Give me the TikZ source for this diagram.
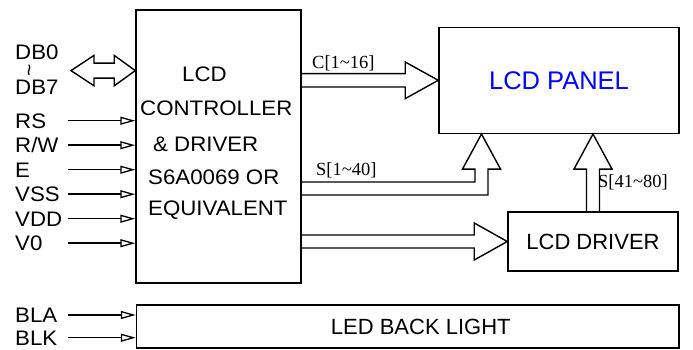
\documentclass[tikz,border=0pt]{standalone}
\usepackage{fontspec}
\setmainfont{Liberation Sans}
\newfontfamily\widefont[FakeStretch=1.06]{Liberation Sans}
\newfontfamily\busfont{Liberation Serif}
\usetikzlibrary{calc, arrows.meta}

\begin{document}
\begin{tikzpicture}[x=1pt, y=-1pt,
		box/.style={draw, line width=1.5pt, inner sep=0pt},
		bus/.style={draw, line width=1.4pt, line join=miter},
		pinarrow/.style={line width=1.5pt, -{Triangle[open, length=15pt, width=8pt, line width=1.3pt]}},
		pinlabel/.style={anchor=west, inner sep=0pt, text width=53pt, text height=15pt, text depth=0pt, font=\widefont\fontsize{21pt}{24pt}\selectfont},
		ctrltext/.style={anchor=west, inner sep=0pt, text height=15pt, text depth=0pt, font=\widefont\fontsize{21pt}{24pt}\selectfont},
		buslabel/.style={anchor=west, inner sep=0pt, font=\busfont\fontsize{18.5pt}{22pt}\selectfont}]
		\useasboundingbox (0,0) rectangle (693,349);

		% blocks
		\node[box, minimum width=165pt, minimum height=273pt] (ctrl) at (218.5,146.5) {};
		\node[box, minimum width=240pt, minimum height=106pt, text=blue, font=\fontsize{25.5pt}{30pt}\selectfont] (panel) at (559,80.3) {LCD PANEL};
		\node[box, minimum width=170pt, minimum height=59pt, font=\fontsize{22pt}{26pt}\selectfont] (drv) at (593,241.5) {LCD DRIVER};
		\node[box, minimum width=542.5pt, minimum height=43pt, font=\fontsize{22pt}{26pt}\selectfont] (led) at (407.75,326.5) {\hspace*{26pt}LED BACK LIGHT};

		\foreach \x/\y/\txt [count=\i] in {182/74.2/LCD, 140/108.3/CONTROLLER, 153/144.2/{\& DRIVER}, 148/176.7/{S6A0069 OR}, 148/207.5/EQUIVALENT}
			\node[ctrltext] (cline\i) at (\x,\y) {\txt};

		% data bus
		\node[pinlabel] (db0) at (15,51.5) {DB0};
		\node[inner sep=0pt, font=\fontsize{21pt}{24pt}\selectfont] (dbto) at (32,70) {\rotatebox{90}{\textasciitilde}};
		\node[pinlabel] (db7) at (15,87) {DB7};
		\coordinate (dbl) at (71,70.6);
		\coordinate (dbr) at (dbl -| ctrl.west);
		\draw[bus] (dbl) -- ++(23,-15.2) -- ++(0,7.7) -- ($(dbr)+(-21,-7.5)$) -- ++(0,-7.7) -- (dbr)
			-- ++(-21,15.2) -- ++(0,-7.7) -- ($(dbl)+(23,7.5)$) -- ++(0,7.7) -- cycle;

		% control pins
		\foreach \name/\txt [count=\i] in {rs/RS, rw/{R/W}, e/E, vss/VSS, vdd/VDD, vo/V0} {
			\node[pinlabel] (\name) at (15,{120.7+24.5*(\i-1)}) {\txt};
			\draw[pinarrow] (\name.east) -- (\name.east -| ctrl.west);
		}
		\foreach \name/\txt/\y in {bla/BLA/315, blk/BLK/337.7} {
			\node[pinlabel] (\name) at (15,\y) {\txt};
			\draw[pinarrow] (\name.east) -- (\name.east -| led.west);
		}

		% common bus
		\coordinate (cbus) at (ctrl.east |- panel.west);
		\draw[bus] ($(cbus)+(0,-6.7)$) -- ($(panel.west)+(-33,-6.7)$) -- ++(0,-11.6) -- (panel.west)
			-- ++(-33,18.3) -- ++(0,-11.6) -- ($(cbus)+(0,6.7)$);
		\node[buslabel] (clab) at (312,63) {C[1\textasciitilde16]};

		% segment bus
		\coordinate (sbus) at (ctrl.east |- 0,188.5);
		\coordinate (stip) at (panel.south -| 481.5,0);
		\draw[bus] ($(sbus)+(0,-6.5)$) -| ($(stip)+(-6.5,35)$) -- ++(-12.5,0) -- (stip)
			-- ++(19,35) -- ++(-12.5,0) |- ($(sbus)+(0,6.5)$);
		\node[buslabel] (slab) at (316,170.5) {S[1\textasciitilde40]};

		% to driver
		\coordinate (dbus) at (ctrl.east |- drv.west);
		\draw[bus] ($(dbus)+(0,-6.5)$) -- ($(drv.west)+(-33,-6.5)$) -- ++(0,-12) -- (drv.west)
			-- ++(-33,18.5) -- ++(0,-12) -- ($(dbus)+(0,6.5)$);

		% driver outputs
		\coordinate (dtip) at (drv.north |- panel.south);
		\draw[bus] ($(drv.north)+(-6.5,0)$) -- ($(dtip)+(-6.5,35)$) -- ++(-12.5,0) -- (dtip)
			-- ++(19,35) -- ++(-12.5,0) -- ($(drv.north)+(6.5,0)$);
		\node[buslabel] (sdlab) at (598,182.5) {S[41\textasciitilde80]};
	\end{tikzpicture}
\end{document}
